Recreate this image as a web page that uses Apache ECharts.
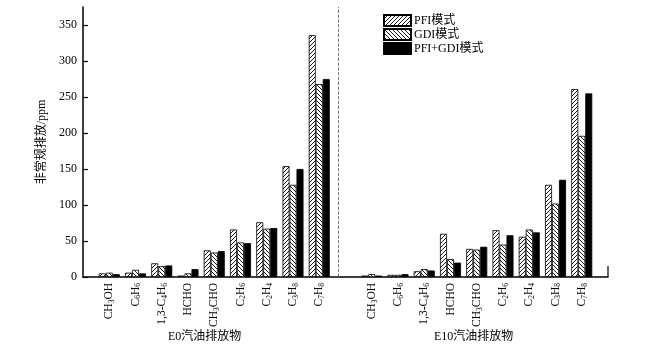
<!DOCTYPE html>
<html>
<head>
<meta charset="utf-8">
<script src="https://cdn.jsdelivr.net/npm/echarts@6/dist/echarts.min.js"></script>
<style>
  html, body { margin: 0; padding: 0; background: #fff; }
  #chart { width: 672px; height: 349px; }
</style>
</head>
<body>
<div id="chart"></div>
<script>
// compounds, same order in both fuel groups
const e0Names = ['CH3OH', 'C6H6', '1,3-C4H6', 'HCHO', 'CH3CHO', 'C2H6', 'C2H4', 'C3H8', 'C7H8']
const e10Names = ['CH3OH', 'C6H6', '1,3-C4H6', 'HCHO', 'CH3CHO', 'C2H6', 'C2H4', 'C3H8', 'C7H8']
const groupTitles = ['E0汽油排放物', 'E10汽油排放物']
const seriesNames = ['PFI模式', 'GDI模式', 'PFI+GDI模式']

// ppm
const e0Pfi = [5, 6, 19, 2, 37, 66, 76, 154, 336]
const e0Gdi = [6, 10, 15, 5, 34, 48, 67, 128, 268]
const e0Mix = [4, 5, 16, 11, 36, 47, 68, 150, 275]
const e10Pfi = [2, 3, 8, 60, 39, 65, 56, 128, 261]
const e10Gdi = [4, 3, 11, 25, 38, 45, 66, 102, 196]
const e10Mix = [2, 4, 9, 20, 42, 58, 62, 135, 255]

const yTicks = [0, 50, 100, 150, 200, 250, 300, 350]

const serif = '"Liberation Serif", "Times New Roman", "Noto Sans CJK SC", serif'

// blank slot at both ends and between the groups
const categories = [''].concat(e0Names, [''], e10Names, [''])
const joinGroups = (a, b) => ['-'].concat(a, ['-'], b, ['-'])

function hatch(dir) {
    const c = document.createElement('canvas')
    c.width = 4
    c.height = 4
    const ctx = c.getContext('2d')
    ctx.fillStyle = '#fff'
    ctx.fillRect(0, 0, 4, 4)
    ctx.strokeStyle = '#000'
    ctx.lineWidth = 0.9
    ctx.beginPath()
    if (dir > 0) {
        ctx.moveTo(-1, 5); ctx.lineTo(5, -1)
        ctx.moveTo(-1, 1); ctx.lineTo(1, -1)
        ctx.moveTo(3, 5); ctx.lineTo(5, 3)
    } else {
        ctx.moveTo(-1, -1); ctx.lineTo(5, 5)
        ctx.moveTo(-1, 3); ctx.lineTo(1, 5)
        ctx.moveTo(3, -1); ctx.lineTo(5, 1)
    }
    ctx.stroke()
    return {image: c, repeat: 'repeat'}
}

const fills = [hatch(1), hatch(-1), '#000']
const values = [joinGroups(e0Pfi, e10Pfi), joinGroups(e0Gdi, e10Gdi), joinGroups(e0Mix, e10Mix)]

const chart = echarts.init(document.getElementById('chart'))

chart.setOption({
    animation: false,
    textStyle: {fontFamily: serif, color: '#000'},
    grid: {left: 83, right: 64, top: 7, bottom: 72},
    legend: {
        orient: 'vertical',
        left: 381,
        top: 12,
        padding: 2,
        itemWidth: 27,
        itemHeight: 11,
        itemGap: 1,
        icon: 'rect',
        textStyle: {fontFamily: serif, fontSize: 12, lineHeight: 12, color: '#000', padding: [0, 0, 0, -2]},
        data: seriesNames
    },
    xAxis: {
        type: 'category',
        data: categories,
        boundaryGap: false,
        axisLine: {lineStyle: {color: '#000', width: 1.5}},
        axisTick: {show: false},
        axisLabel: {
            interval: 0,
            rotate: 90,
            margin: 6,
            fontFamily: serif,
            fontSize: 11.5,
            color: '#000',
            formatter: v => v.replace(/([A-Za-z])(\d+)/g, '$1{s|$2}'),
            rich: {
                s: {fontSize: 7.5, fontFamily: serif, padding: [6, 0, 0, 0]}
            }
        }
    },
    yAxis: {
        type: 'value',
        min: 0,
        max: 375,
        interval: 50,
        name: '非常规排放/ppm',
        nameLocation: 'middle',
        nameGap: 32,
        nameTextStyle: {fontFamily: serif, fontSize: 12, color: '#000'},
        axisLine: {show: true, lineStyle: {color: '#000', width: 1.5}},
        axisTick: {show: true, inside: true, length: 5, lineStyle: {color: '#000', width: 1.2}},
        splitLine: {show: false},
        axisLabel: {
            margin: 6,
            fontSize: 12,
            color: '#000',
            showMaxLabel: false,
            formatter: v => (yTicks.includes(v) ? String(v) : '')
        }
    },
    series: seriesNames.map((name, i) => ({
        name: name,
        type: 'bar',
        data: values[i],
        barWidth: 7,
        barGap: '0%',
        itemStyle: {color: fills[i], borderColor: '#000', borderWidth: 0.8},
        markLine: i === 0 ? {
            silent: true,
            symbol: 'none',
            label: {show: false},
            lineStyle: {type: 'dashed', color: '#555', width: 0.8},
            data: [{xAxis: 10}]
        } : undefined
    })),
    graphic: [
        {type: 'text', left: 168, top: 331, style: {text: groupTitles[0], font: '12px ' + serif, fill: '#000'}},
        {type: 'text', left: 434, top: 331, style: {text: groupTitles[1], font: '12px ' + serif, fill: '#000'}},
        {type: 'line', shape: {x1: 608, y1: 266, x2: 608, y2: 277}, style: {stroke: '#000', lineWidth: 1.2}}
    ]
})
</script>
</body>
</html>
